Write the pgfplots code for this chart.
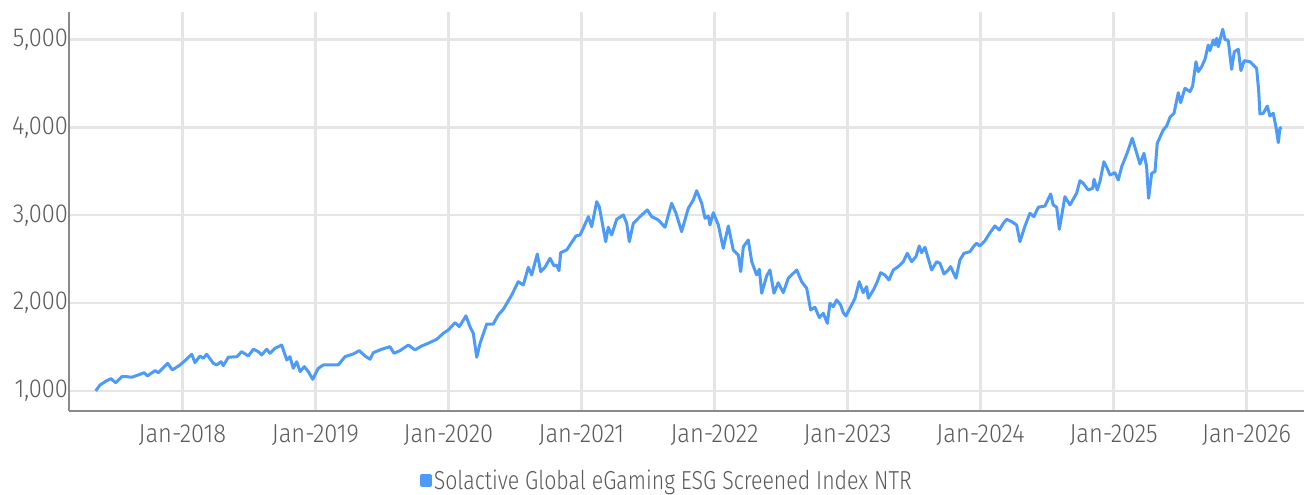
\documentclass[border=0pt]{standalone}
\usepackage{fontspec}
\setmainfont{Fira Sans}[UprightFont={* Light}, FakeStretch=0.91]
\newfontfamily\legfont{Fira Sans}[UprightFont={* Light}, FakeStretch=0.82]
\usepackage{pgfplots}
\pgfplotsset{compat=1.18}
\definecolor{lineblue}{HTML}{4D9BF7}
\definecolor{gridgray}{HTML}{E5E5E5}
\definecolor{axisgray}{HTML}{8A8A8A}
\definecolor{txtgray}{HTML}{5A5A5A}

\pgfplotstableread{
year value
2017.349 1000
2017.381 1068
2017.432 1117
2017.464 1140
2017.499 1094
2017.545 1163
2017.582 1163
2017.620 1156
2017.669 1182
2017.714 1208
2017.737 1171
2017.795 1231
2017.820 1208
2017.890 1315
2017.925 1239
2017.983 1296
2018.020 1345
2018.071 1418
2018.095 1322
2018.133 1398
2018.158 1372
2018.183 1418
2018.233 1315
2018.259 1296
2018.291 1333
2018.308 1288
2018.346 1384
2018.409 1390
2018.446 1447
2018.496 1398
2018.534 1475
2018.571 1447
2018.597 1410
2018.634 1475
2018.659 1429
2018.697 1486
2018.747 1523
2018.785 1353
2018.809 1390
2018.834 1258
2018.860 1333
2018.885 1220
2018.917 1277
2018.947 1220
2018.980 1133
2019.022 1258
2019.060 1296
2019.123 1296
2019.172 1296
2019.223 1390
2019.285 1421
2019.330 1459
2019.373 1398
2019.411 1361
2019.436 1436
2019.499 1475
2019.561 1504
2019.591 1429
2019.636 1459
2019.699 1523
2019.749 1467
2019.799 1512
2019.849 1543
2019.912 1588
2019.962 1657
2019.999 1694
2020.050 1777
2020.082 1732
2020.132 1854
2020.162 1732
2020.187 1657
2020.213 1384
2020.238 1543
2020.288 1762
2020.337 1762
2020.375 1865
2020.413 1930
2020.476 2092
2020.525 2244
2020.563 2206
2020.601 2408
2020.626 2320
2020.668 2559
2020.694 2358
2020.726 2408
2020.764 2510
2020.794 2423
2020.814 2434
2020.831 2369
2020.844 2574
2020.889 2605
2020.959 2764
2020.989 2775
2021.014 2852
2021.052 2984
2021.077 2870
2021.115 3154
2021.134 3097
2021.164 2852
2021.182 2699
2021.202 2863
2021.227 2775
2021.265 2954
2021.315 3003
2021.340 2908
2021.360 2699
2021.390 2908
2021.440 2984
2021.495 3060
2021.528 2984
2021.578 2946
2021.628 2863
2021.678 3136
2021.711 3022
2021.753 2813
2021.803 3079
2021.841 3174
2021.866 3279
2021.904 3136
2021.929 2965
2021.953 2992
2021.966 2889
2021.991 3029
2022.029 2889
2022.066 2624
2022.104 2878
2022.141 2605
2022.179 2548
2022.197 2358
2022.217 2642
2022.254 2718
2022.280 2471
2022.317 2320
2022.337 2385
2022.355 2112
2022.392 2309
2022.417 2377
2022.447 2112
2022.479 2232
2022.517 2119
2022.555 2283
2022.618 2377
2022.655 2244
2022.693 2169
2022.723 1922
2022.755 1953
2022.788 1835
2022.818 1884
2022.848 1770
2022.868 1998
2022.893 1959
2022.918 2036
2022.948 1979
2022.968 1891
2022.988 1854
2023.018 1941
2023.056 2055
2023.088 2244
2023.118 2119
2023.144 2187
2023.156 2055
2023.194 2149
2023.219 2226
2023.249 2346
2023.281 2320
2023.311 2263
2023.344 2377
2023.381 2415
2023.419 2471
2023.449 2567
2023.482 2471
2023.514 2528
2023.539 2650
2023.557 2574
2023.582 2635
2023.632 2377
2023.670 2471
2023.695 2453
2023.725 2331
2023.757 2377
2023.775 2415
2023.815 2283
2023.845 2491
2023.875 2567
2023.920 2585
2023.950 2650
2023.971 2681
2023.995 2650
2024.033 2710
2024.071 2801
2024.108 2878
2024.141 2832
2024.171 2908
2024.196 2954
2024.234 2927
2024.271 2889
2024.296 2699
2024.334 2878
2024.371 3022
2024.401 2984
2024.434 3091
2024.484 3105
2024.527 3242
2024.546 3117
2024.572 3091
2024.592 2840
2024.634 3211
2024.672 3117
2024.722 3250
2024.747 3393
2024.772 3364
2024.809 3287
2024.843 3307
2024.853 3409
2024.877 3287
2024.897 3382
2024.927 3609
2024.952 3534
2024.973 3458
2025.010 3484
2025.035 3401
2025.061 3553
2025.103 3712
2025.140 3876
2025.168 3735
2025.198 3583
2025.228 3705
2025.248 3553
2025.263 3193
2025.286 3477
2025.311 3496
2025.328 3819
2025.373 3970
2025.399 4016
2025.424 4115
2025.454 4160
2025.486 4395
2025.504 4281
2025.536 4445
2025.574 4406
2025.594 4471
2025.619 4747
2025.636 4634
2025.662 4691
2025.687 4775
2025.711 4937
2025.724 4873
2025.749 4994
2025.762 4937
2025.775 5014
2025.787 4918
2025.820 5116
2025.837 5002
2025.862 4986
2025.887 4661
2025.907 4861
2025.937 4889
2025.957 4645
2025.982 4759
2026.025 4747
2026.050 4710
2026.075 4672
2026.090 4425
2026.100 4152
2026.125 4160
2026.155 4243
2026.175 4130
2026.200 4160
2026.220 4008
2026.238 3826
2026.250 3990
2026.263 4000
}\indexdata

\begin{document}
\begin{tikzpicture}
\useasboundingbox (0,0) rectangle (1304pt,495pt);
\begin{axis}[
    at={(69.5pt,84pt)}, anchor=south west,
    scale only axis, width=1234.5pt, height=399pt,
    xmin=2017.152, xmax=2026.431,
    ymin=772, ymax=5313,
    xtick={2018,2019,2020,2021,2022,2023,2024,2025,2026},
    xticklabels={Jan-2018,Jan-2019,Jan-2020,Jan-2021,Jan-2022,Jan-2023,Jan-2024,Jan-2025,Jan-2026},
    ytick={1000,2000,3000,4000,5000},
    /pgf/number format/.cd, 1000 sep={,}, assume math mode=true, /pgfplots/.cd,
    scaled y ticks=false,
    major tick length=0pt,
    axis x line*=bottom, axis y line*=left,
    axis line style={-, draw=axisgray, line width=2pt},
    grid=major,
    major grid style={draw=gridgray, line width=2.5pt},
    tick label style={font=\fontsize{26}{30}\selectfont, text=txtgray},
    xticklabel style={yshift=-10pt},
    yticklabel style={xshift=2pt},
    legend style={at={(0.484,-0.175)}, anchor=center, draw=none, fill=none,
        font=\legfont\fontsize{26}{30}\selectfont, text=txtgray,
        /tikz/every even column/.append style={column sep=0pt}},
    legend image code/.code={\fill[lineblue] (1pt,-4.8pt) rectangle (9.5pt,5.2pt);},
]
\addplot[lineblue, line width=3pt, line join=round] table[x=year, y=value] {\indexdata};
\addlegendentry{Solactive Global eGaming ESG Screened Index NTR}
\end{axis}
\end{tikzpicture}
\end{document}
